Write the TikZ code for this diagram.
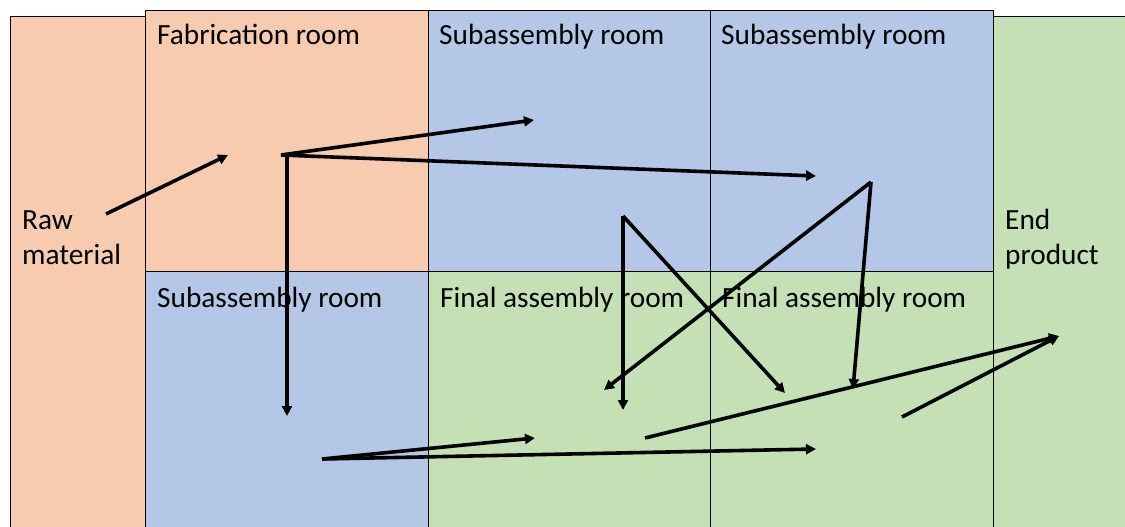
\documentclass[tikz,border=0pt]{standalone}
\usepackage{fontspec}
\setmainfont{Carlito}
\usetikzlibrary{arrows.meta}
\definecolor{fabfill}{HTML}{F7CBAE}
\definecolor{subfill}{HTML}{B4C7E7}
\definecolor{finfill}{HTML}{C5E0B4}
\tikzset{
  room/.style={draw=black, line width=0.9pt},
  roomlabel/.style={anchor=base west, inner sep=0pt, font=\fontsize{29.3}{35}\selectfont},
  flow/.style={line width=3.6pt, -{Triangle[length=10pt,width=10pt]}},
  flowline/.style={line width=3.6pt},
}
\begin{document}
\begin{tikzpicture}[x=1pt,y=-1pt]
\useasboundingbox (0,0) rectangle (1125,527);
\fill[white] (0,0) rectangle (1125,527);
\begin{scope}
\clip (0,0) rectangle (1125,527);
% outer zones: raw material and end product
\draw[room, fill=fabfill] (10,16) rectangle (145,545);
\draw[room, fill=finfill] (993,16) rectangle (1140,545);
% upper row of rooms
\draw[room, fill=fabfill] (145,10) rectangle (428,271);
\draw[room, fill=subfill] (428,10) rectangle (710,271);
\draw[room, fill=subfill] (710,10) rectangle (993,271);
% lower row of rooms
\draw[room, fill=subfill] (145,271) rectangle (428,545);
\draw[room, fill=finfill] (428,271) rectangle (710,545);
\draw[room, fill=finfill] (710,271) rectangle (993,545);
\end{scope}

% labels
\node[roomlabel] (fab) at (157,45) {Fabrication room};
\node[roomlabel] (subA) at (439,45) {Subassembly room};
\node[roomlabel] (subB) at (721,45) {Subassembly room};
\node[roomlabel] (subC) at (157,307) {Subassembly room};
\node[roomlabel] (finA) at (440,307) {Final assembly room};
\node[roomlabel] (finB) at (722,307) {Final assembly room};
\node[roomlabel] (raw1) at (22,229) {Raw};
\node[roomlabel] (raw2) at (22,264) {material};
\node[roomlabel] (end1) at (1005,229) {End};
\node[roomlabel] (end2) at (1005,264) {product};

% flow points
\coordinate (rawS) at (106,214);
\coordinate (rawT) at (228,155);
\coordinate (fabH) at (281,155);
\coordinate (fabV) at (287,155);
\coordinate (t1) at (534,120);
\coordinate (t2) at (816,176);
\coordinate (t3) at (287,416);
\coordinate (sC) at (322,459);
\coordinate (t4) at (535,438);
\coordinate (t5) at (816,449);
\coordinate (sA) at (623,216);
\coordinate (t6) at (623,410);
\coordinate (t7) at (785,393);
\coordinate (sB) at (871,182);
\coordinate (t8) at (604,390);
\coordinate (t9) at (853,389);
\coordinate (fA) at (645,438);
\coordinate (fB) at (902,417);
\coordinate (endT) at (1059,336);

% material flows
\draw[flow] (rawS) -- (rawT);
\draw[flowline] (fabH) -- (fabV);
\draw[flow] (fabH) -- (t1);
\draw[flow] (fabH) -- (t2);
\draw[flow] (fabV) -- (t3);
\draw[flow] (sC) -- (t4);
\draw[flow] (sC) -- (t5);
\draw[flow] (sA) -- (t6);
\draw[flow] (sA) -- (t7);
\draw[flow] (sB) -- (t8);
\draw[flow] (sB) -- (t9);
\draw[flow] (fA) -- (endT);
\draw[flow] (fB) -- (endT);
\end{tikzpicture}
\end{document}
